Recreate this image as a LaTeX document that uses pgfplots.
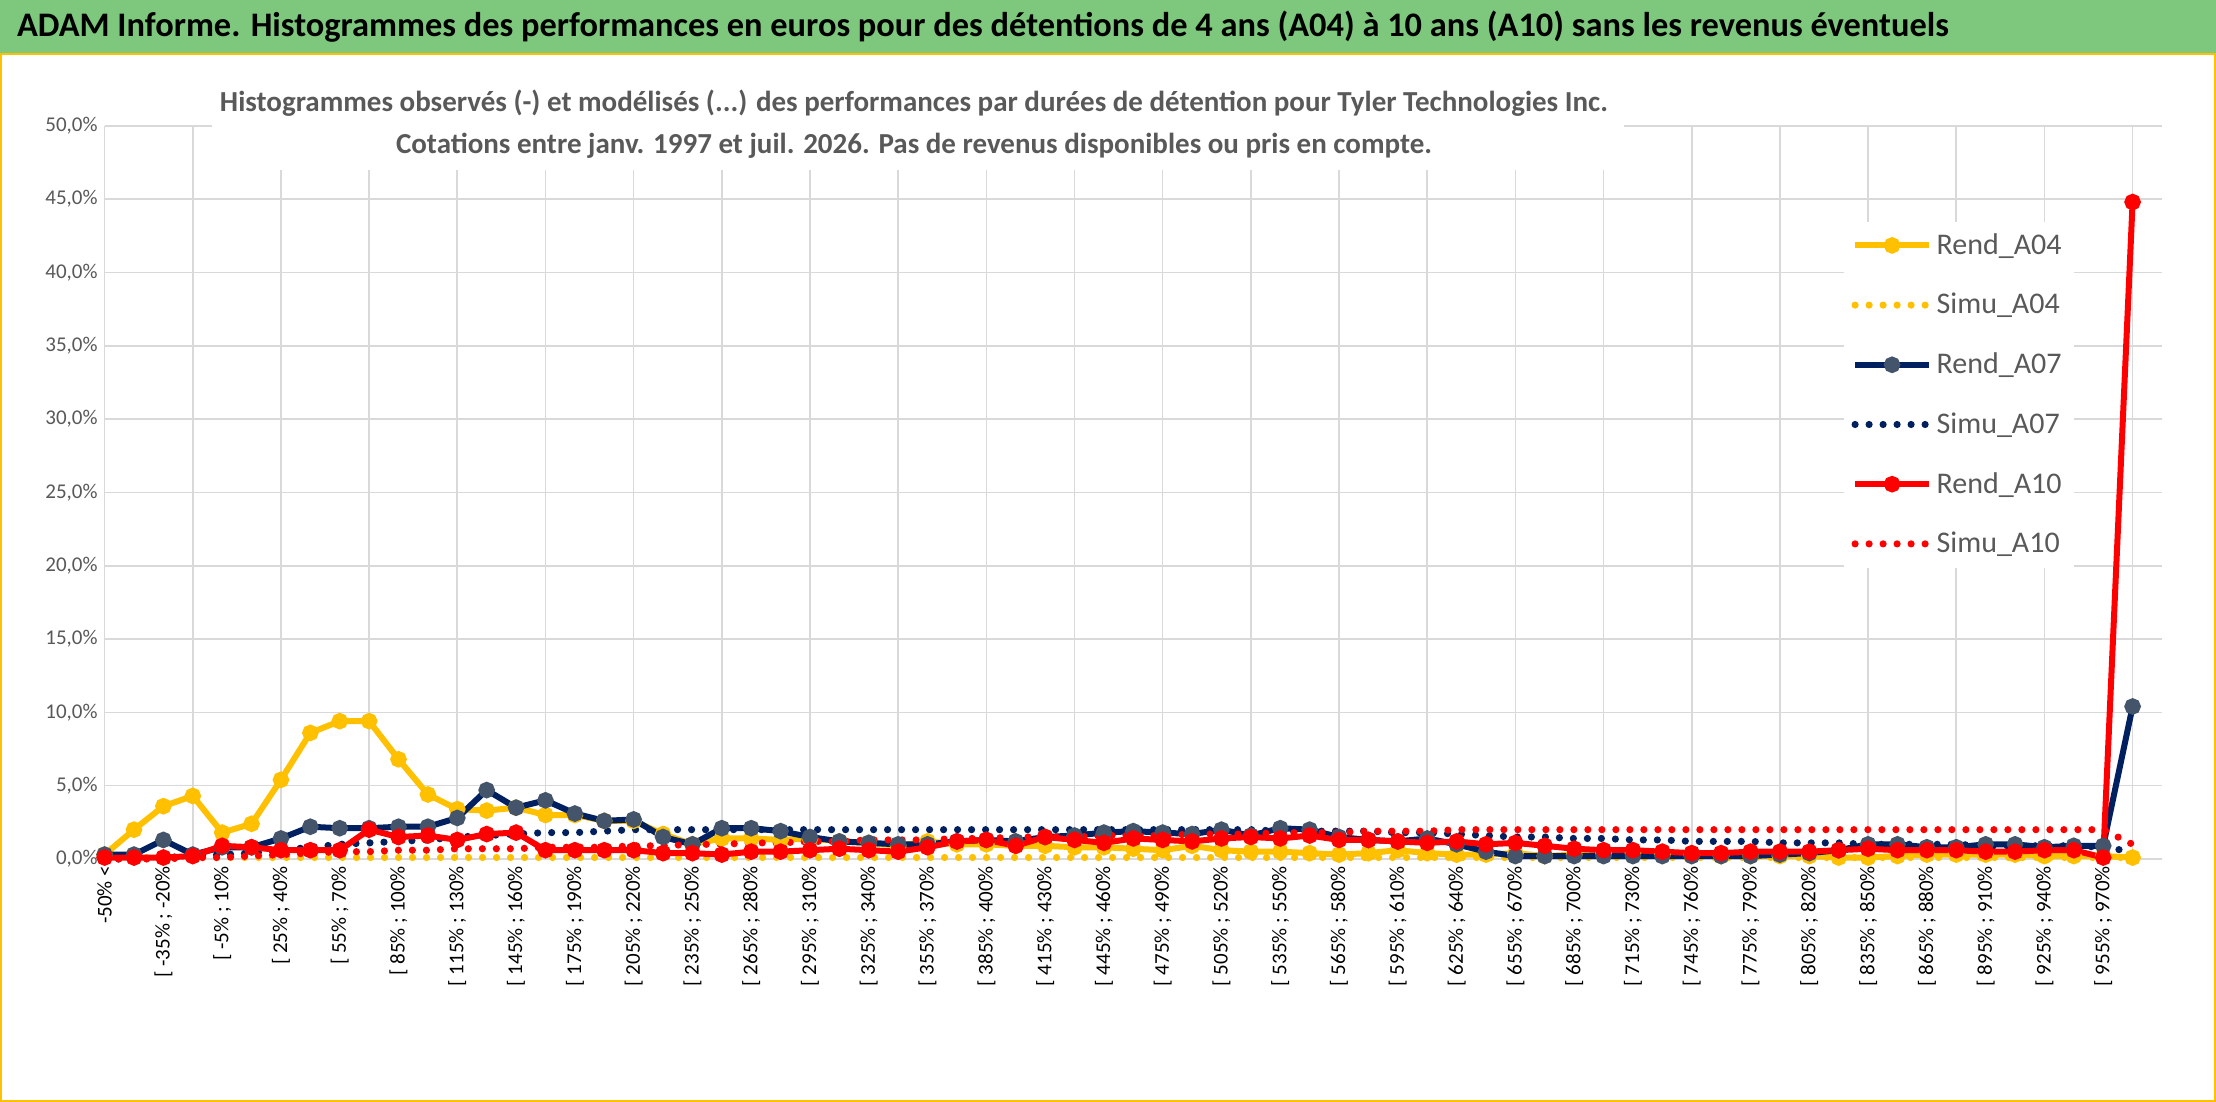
\documentclass[border=0pt]{standalone}
\usepackage{pgfplots}
\pgfplotsset{compat=1.18}
\usepackage{pgfplotstable}
\usepackage{fontspec}
\setmainfont{Carlito}
\definecolor{cyel}{RGB}{255,192,0}
\definecolor{cnav}{RGB}{0,32,96}
\definecolor{cmark}{RGB}{68,84,106}
\definecolor{cred}{RGB}{255,0,0}
\definecolor{cgreen}{RGB}{125,200,125}
\definecolor{ctxt}{RGB}{89,89,89}
\definecolor{cgrid}{RGB}{217,217,217}
\pgfplotstableread{
k a04 s04 a07 s07 a10 s10
0 0.3 0.0 0.3 0.0 0.1 0.0
1 2.0 0.1 0.3 0.0 0.1 0.0
2 3.6 0.1 1.3 0.1 0.1 0.0
3 4.3 0.1 0.3 0.2 0.2 0.1
4 1.8 0.1 0.8 0.3 0.9 0.1
5 2.4 0.1 0.8 0.4 0.8 0.2
6 5.4 0.1 1.4 0.6 0.6 0.3
7 8.6 0.1 2.2 0.8 0.6 0.4
8 9.4 0.1 2.1 1.0 0.6 0.5
9 9.4 0.1 2.1 1.1 2.0 0.5
10 6.8 0.1 2.2 1.2 1.5 0.6
11 4.4 0.1 2.2 1.3 1.6 0.6
12 3.4 0.1 2.8 1.5 1.3 0.7
13 3.3 0.1 4.7 1.6 1.7 0.7
14 3.5 0.1 3.5 1.7 1.8 0.7
15 3.0 0.1 4.0 1.8 0.6 0.8
16 3.0 0.1 3.1 1.8 0.6 0.8
17 2.6 0.1 2.6 1.9 0.6 0.8
18 2.6 0.1 2.7 2.0 0.6 0.9
19 1.7 0.1 1.5 2.0 0.4 0.9
20 1.0 0.1 1.0 2.0 0.4 1.0
21 1.4 0.1 2.1 2.0 0.3 1.0
22 1.4 0.1 2.1 2.0 0.5 1.1
23 1.3 0.1 1.9 2.0 0.5 1.1
24 1.4 0.1 1.5 2.0 0.6 1.2
25 1.2 0.1 1.2 2.0 0.7 1.2
26 1.1 0.1 1.1 2.0 0.6 1.3
27 0.9 0.1 1.0 2.0 0.5 1.3
28 1.2 0.1 1.0 2.0 0.8 1.3
29 1.0 0.1 1.2 2.0 1.2 1.4
30 1.0 0.1 1.3 2.0 1.3 1.4
31 0.9 0.1 1.2 2.0 0.9 1.5
32 0.9 0.1 1.5 2.0 1.5 1.5
33 0.8 0.1 1.6 2.0 1.3 1.5
34 0.8 0.1 1.8 2.0 1.1 1.6
35 0.7 0.1 1.9 2.0 1.4 1.6
36 0.6 0.1 1.8 2.0 1.3 1.6
37 0.9 0.1 1.7 2.0 1.2 1.7
38 0.6 0.1 2.0 2.0 1.4 1.7
39 0.5 0.1 1.6 2.0 1.5 1.7
40 0.5 0.1 2.1 1.9 1.4 1.8
41 0.4 0.1 2.0 1.9 1.6 1.8
42 0.3 0.1 1.5 1.9 1.3 1.8
43 0.4 0.1 1.3 1.9 1.3 1.9
44 0.6 0.1 1.2 1.8 1.2 1.9
45 0.4 0.1 1.4 1.8 1.1 1.9
46 0.3 0.1 1.0 1.7 1.2 2.0
47 0.3 0.1 0.5 1.6 1.0 2.0
48 0.4 0.1 0.2 1.5 1.1 2.0
49 0.2 0.1 0.2 1.5 0.9 2.0
50 0.3 0.1 0.2 1.4 0.7 2.0
51 0.4 0.1 0.2 1.4 0.6 2.0
52 0.4 0.1 0.2 1.3 0.6 2.0
53 0.3 0.1 0.2 1.3 0.5 2.0
54 0.3 0.1 0.2 1.2 0.4 2.0
55 0.2 0.1 0.2 1.2 0.4 2.0
56 0.2 0.1 0.2 1.2 0.5 2.0
57 0.2 0.1 0.3 1.1 0.5 2.0
58 0.2 0.1 0.4 1.1 0.5 2.0
59 0.1 0.1 0.6 1.1 0.6 2.0
60 0.1 0.1 1.0 1.0 0.7 2.0
61 0.2 0.1 1.0 1.0 0.6 2.0
62 0.3 0.1 0.8 1.0 0.6 2.0
63 0.3 0.1 0.8 1.0 0.6 2.0
64 0.3 0.1 1.0 0.9 0.5 2.0
65 0.3 0.1 1.0 0.9 0.5 2.0
66 0.2 0.1 0.8 0.9 0.6 2.0
67 0.2 0.1 0.9 0.9 0.6 2.0
68 0.2 0.1 0.9 0.8 0.1 2.0
69 0.1 0.1 10.4 0.5 44.8 1.0
}\datatable
\begin{document}
\begin{tikzpicture}
\path[use as bounding box] (0,0) rectangle (1108bp,551bp);
\fill[white] (0,0) rectangle (1108bp,551bp);
\fill[cgreen] (0,524bp) rectangle (1108bp,551bp);
\draw[cyel,line width=0.8bp] (0.4bp,0.4bp) rectangle (1107.6bp,524bp);
\node[anchor=west,font=\fontsize{17.2bp}{19bp}\selectfont\bfseries] at (5bp,537.5bp)
 {ADAM Informe. Histogrammes des performances en euros pour des détentions de 4 ans (A04) à 10 ans (A10) sans les revenus éventuels};
\begin{axis}[
 at={(52.3bp,121.5bp)}, anchor=south west, scale only axis,
 width=1028.7bp, height=366.6bp,
 xmin=0, xmax=70, ymin=0, ymax=50,
 axis line style={cgrid}, axis x line*=bottom, axis y line*=left,
 tick style={draw=none},
 ytick={0,5,...,50}, ymajorgrids, grid style={cgrid,line width=0.8bp},
 minor xtick={0,3,...,69}, xminorgrids, minor grid style={cgrid,line width=0.8bp},
 /pgf/number format/assume math mode=true,
 yticklabel={\pgfmathprintnumber[fixed,fixed zerofill,precision=1,use comma]{\tick}\%},
 yticklabel style={font=\fontsize{10.5bp}{12bp}\selectfont, text=ctxt},
 xtick={0,2,...,68},
 xticklabels={-50\% <,[ -35\% ; -20\%,[ -5\% ; 10\%,[ 25\% ; 40\%,[ 55\% ; 70\%,[ 85\% ; 100\%,[ 115\% ; 130\%,[ 145\% ; 160\%,[ 175\% ; 190\%,[ 205\% ; 220\%,[ 235\% ; 250\%,[ 265\% ; 280\%,[ 295\% ; 310\%,[ 325\% ; 340\%,[ 355\% ; 370\%,[ 385\% ; 400\%,[ 415\% ; 430\%,[ 445\% ; 460\%,[ 475\% ; 490\%,[ 505\% ; 520\%,[ 535\% ; 550\%,[ 565\% ; 580\%,[ 595\% ; 610\%,[ 625\% ; 640\%,[ 655\% ; 670\%,[ 685\% ; 700\%,[ 715\% ; 730\%,[ 745\% ; 760\%,[ 775\% ; 790\%,[ 805\% ; 820\%,[ 835\% ; 850\%,[ 865\% ; 880\%,[ 895\% ; 910\%,[ 925\% ; 940\%,[ 955\% ; 970\%},
 xticklabel style={rotate=90, anchor=east, font=\fontsize{10.5bp}{12bp}\selectfont, text=black},
 clip=false,
 legend style={at={(0.845,0.87)}, anchor=north west, draw=none, fill=white,
   font=\fontsize{15bp}{17bp}\selectfont, text=ctxt, row sep=14bp, inner sep=4bp},
 legend cell align=left,
 legend image code/.code={\draw[mark repeat=2,mark phase=2,#1] plot coordinates {(0bp,0bp) (18.5bp,0bp) (37bp,0bp)};},
 rend/.style={line width=3bp, mark=*, mark size=2.6bp},
 simu/.style={line width=3.6bp, dash pattern=on 0pt off 7bp, line cap=round, mark=none},
]
\addplot[rend, cyel, mark options={fill=cyel,draw=cyel}] table[x=k,y=a04]{\datatable};
\addlegendentry{Rend\_A04}
\addplot[simu, cyel] table[x=k,y=s04]{\datatable};
\addlegendentry{Simu\_A04}
\addplot[rend, cnav, mark options={fill=cmark,draw=cmark}] table[x=k,y=a07]{\datatable};
\addlegendentry{Rend\_A07}
\addplot[simu, cnav] table[x=k,y=s07]{\datatable};
\addlegendentry{Simu\_A07}
\addplot[rend, cred, mark options={fill=cred,draw=cred}] table[x=k,y=a10]{\datatable};
\addlegendentry{Rend\_A10}
\addplot[simu, cred] table[x=k,y=s10]{\datatable};
\addlegendentry{Simu\_A10}
\end{axis}
\fill[white] (106bp,466bp) rectangle (812bp,510bp);
\node[font=\fontsize{14.5bp}{16bp}\selectfont\bfseries, text=ctxt] at (457bp,499.5bp)
 {Histogrammes observés (-) et modélisés (...) des performances par durées de détention pour Tyler Technologies Inc.};
\node[font=\fontsize{14.5bp}{16bp}\selectfont\bfseries, text=ctxt] at (457bp,478bp)
 {Cotations entre janv. 1997 et juil. 2026. Pas de revenus disponibles ou pris en compte.};
\end{tikzpicture}
\end{document}
